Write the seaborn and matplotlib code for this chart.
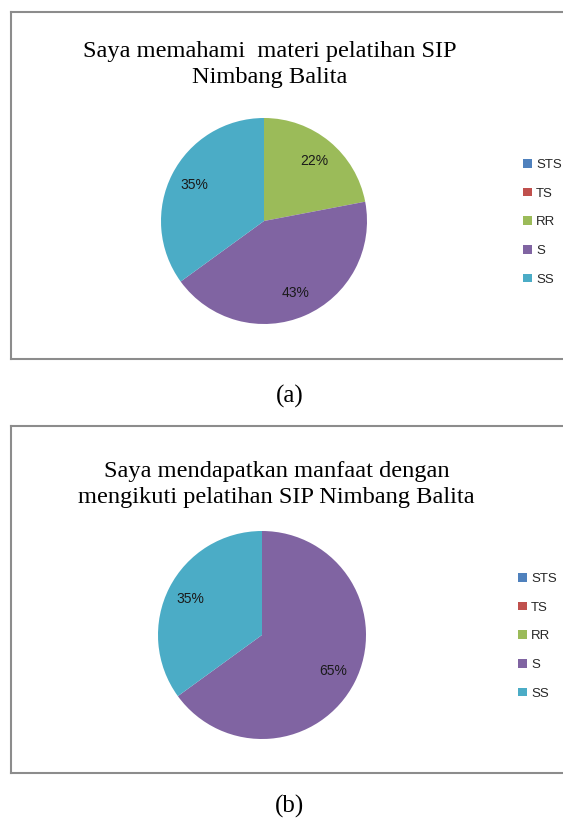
import matplotlib
matplotlib.use("Agg")
import matplotlib.pyplot as plt
import seaborn as sns

# ---- data ----
categories = ["STS", "TS", "RR", "S", "SS"]
values_a = [0, 0, 22, 43, 35]
values_b = [0, 0, 0, 65, 35]
title_a = ["Saya memahami  materi pelatihan SIP", "Nimbang Balita"]
title_b = ["Saya mendapatkan manfaat dengan", "mengikuti pelatihan SIP Nimbang Balita"]
captions = ["(a)", "(b)"]

sns.set_style("white")
palette = sns.color_palette(["#4F81BD", "#C0504D", "#9BBB59", "#8064A2", "#4BACC6"])

W, H = 563, 822
fig = plt.figure(figsize=(W / 100, H / 100), dpi=100)


def fx(px):
    return px / W


def fy(py):
    return 1 - py / H


def pct_fmt(p):
    return f"{p:.0f}%" if p >= 0.5 else ""


panels = [
    dict(vals=values_a, title=title_a, top=12, bottom=359, cx=264, cy=221, r=103,
         base1=57, tx=270, leg_x=523, leg_y=159, cap_y=396, pctd=0.76),
    dict(vals=values_b, title=title_b, top=426, bottom=773, cx=262, cy=635, r=104,
         base1=477, tx=277, leg_x=518, leg_y=573, cap_y=806, pctd=0.77),
]

for i, p in enumerate(panels):
    # border frame
    fr = fig.add_axes([fx(11), fy(p["bottom"]), fx(W + 20 - 11), (p["bottom"] - p["top"]) / H])
    fr.set_xticks([])
    fr.set_yticks([])
    for s in fr.spines.values():
        s.set_color("#8c8c8c")
        s.set_linewidth(1.5)
    fr.patch.set_alpha(0)

    # pie
    pa = fig.add_axes([fx(p["cx"] - p["r"]), fy(p["cy"] + p["r"]), 2 * p["r"] / W, 2 * p["r"] / H])
    wedges, texts, autotexts = pa.pie(
        p["vals"], colors=palette, startangle=90, counterclock=False,
        autopct=pct_fmt, pctdistance=p["pctd"], radius=1,
        wedgeprops=dict(linewidth=0),
        textprops=dict(fontsize=10, color="#1a1a1a", family="Liberation Sans"),
    )
    pa.set_xlim(-1, 1)
    pa.set_ylim(-1, 1)
    pa.set_aspect("equal")

    # title (two lines)
    for k, line in enumerate(p["title"]):
        fig.text(fx(p["tx"] - (1 if (i == 1 and k == 1) else 0)), fy(p["base1"] + 26 * k), line,
                 ha="center", va="baseline", fontsize=17.6, family="Liberation Serif", color="black")

    # legend
    fig.legend(wedges, categories, loc="upper left",
               bbox_to_anchor=(fx(p["leg_x"]), fy(p["leg_y"])),
               frameon=False, handlelength=0.65, handleheight=0.65, handletextpad=0.35,
               labelspacing=1.26, borderpad=0, borderaxespad=0,
               prop=dict(family="Liberation Sans", size=9.5))

    # caption
    fig.text(fx(290), fy(p["cap_y"]), captions[i], ha="center", va="center",
             fontsize=18, family="Liberation Serif", color="black")

fig.savefig("out.png", dpi=100)
